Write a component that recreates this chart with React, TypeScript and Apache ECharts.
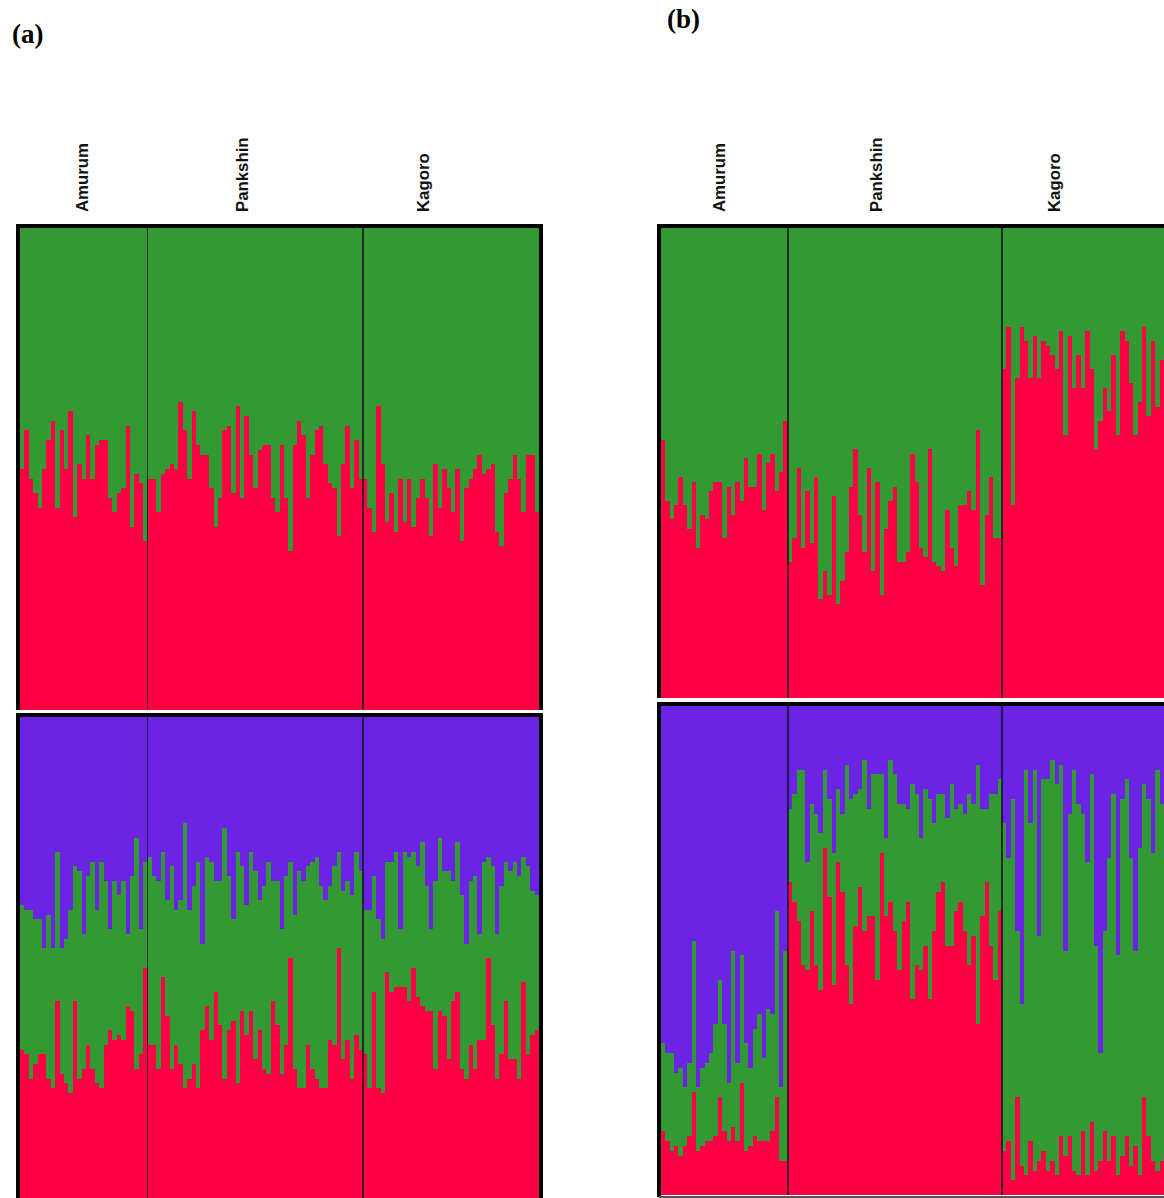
import React, { useEffect, useRef } from "react";
import * as echarts from "echarts";

// ---------- data (membership %, per individual) ----------
const populations = ["Amurum", "Pankshin", "Kagoro"];
const popSizes = [29, 49, 40];

// (a) top: K=2, cluster 1 (red) share
const a2RedAmurum = [50,58,48,45,42,50,56,60,42,58,50,62,40,51,48,57,48,55,56,56,44,41,45,46,59,38,49,47,35];
const a2RedPankshin = [48,48,41,49,50,51,50,64,58,48,62,55,53,53,46,38,44,58,59,45,63,44,61,53,46,54,55,55,44,41,55,44,33,55,60,57,44,53,58,59,51,47,46,36,51,59,46,56,48];
const a2RedKagoro = [48,42,37,63,51,39,45,37,48,39,48,38,44,48,44,36,51,42,50,46,41,50,35,46,48,50,53,49,50,51,37,34,45,48,53,48,41,53,53,41];

// (a) bottom: K=3, red and green shares (purple = rest)
const a3RedAmurum = [31,30,25,28,30,30,25,23,41,26,24,22,41,25,27,32,27,24,23,32,35,33,34,33,40,39,27,30,48];
const a3GreenAmurum = [30,30,35,30,28,22,34,29,31,26,30,38,28,43,28,35,43,36,47,34,21,33,29,33,15,28,48,26,22];
const a3RedPankshin = [32,32,27,46,38,27,32,28,23,25,28,23,35,40,33,43,36,25,35,37,24,39,34,39,29,35,27,26,41,36,26,32,50,27,23,23,32,27,25,23,23,33,32,52,29,33,25,34,31];
const a3GreenPankshin = [39,35,39,26,24,42,28,34,55,35,37,47,18,31,37,23,30,52,32,21,48,30,27,33,39,27,38,44,25,30,30,35,20,32,45,43,37,43,46,42,39,32,37,20,35,33,38,38,37];
const a3RedKagoro = [30,23,43,23,22,47,43,44,44,44,41,48,42,40,39,39,27,39,38,29,41,43,27,25,32,27,33,33,50,36,25,30,41,29,29,25,45,30,34,35];
const a3GreenKagoro = [30,37,24,35,32,23,27,28,12,28,30,24,27,34,26,17,39,36,30,39,25,31,36,28,34,40,22,37,21,33,30,35,29,39,41,42,26,39,30,28];

// (b) top: K=2, red share
const b2RedAmurum = [55,42,38,41,47,41,36,46,32,39,38,44,46,46,34,45,39,46,42,51,45,45,52,40,50,52,44,48,59];
const b2RedPankshin = [29,34,49,32,44,33,47,21,27,22,43,20,25,31,45,53,39,31,49,27,46,22,36,42,45,29,29,31,52,46,32,30,53,29,28,27,40,32,28,41,41,44,40,57,24,39,47,34,34];
const b2RedKagoro = [70,79,41,68,79,76,68,77,68,76,75,73,70,78,56,77,66,73,66,78,70,53,59,66,61,73,56,78,76,67,56,63,79,60,76,62,72,68,74,70];

// (b) bottom: K=3, red and green shares (purple = rest)
const b3RedAmurum = [13,11,9,10,8,10,12,21,9,10,11,11,12,20,13,11,14,11,23,9,10,12,11,11,11,13,20,7,7];
const b3GreenAmurum = [18,18,20,15,18,12,15,31,13,16,16,18,23,24,22,12,36,16,26,22,16,22,26,17,27,24,38,15,43];
const b3RedPankshin = [64,60,56,47,46,58,47,42,71,61,43,68,62,47,39,55,63,54,57,57,44,70,57,60,54,46,56,60,40,47,46,51,40,54,62,64,51,51,58,60,54,47,53,35,57,64,51,44,58];
const b3GreenPankshin = [15,22,31,40,22,22,31,32,16,20,27,15,16,41,42,27,20,35,22,29,42,16,16,29,32,34,24,19,44,35,27,32,41,22,20,18,26,33,21,20,24,35,27,53,22,15,31,38,27];
const b3RedKagoro = [9,11,3,20,6,4,11,5,7,9,5,7,4,12,8,12,5,4,13,4,15,5,7,13,7,12,4,8,12,6,10,4,20,12,7,5,7,9,5,7];
const b3GreenKagoro = [67,58,78,34,33,83,65,82,46,76,80,82,80,76,42,66,82,76,65,64,71,46,22,41,62,70,45,73,73,63,40,67,64,69,63,82,73,63,78,71];

// ---------- styling / layout ----------
const RED = "#FF0044";
const GREEN = "#339933";
const PURPLE = "#6B24E6";

const CANVAS_W = 1200;
const CANVAS_H = 1200;

const GRIDS = [
  { left: 20, top: 228, width: 519, height: 482 },  // (a) K=2
  { left: 20, top: 717, width: 519, height: 482 },  // (a) K=3
  { left: 661, top: 228, width: 516, height: 470 }, // (b) K=2
  { left: 661, top: 706, width: 516, height: 489 }, // (b) K=3
];

const LABEL_X_A = [82, 242, 423];
const LABEL_X_B = [719, 876, 1054];

export default function App() {
  const ref = useRef<HTMLDivElement>(null);

  useEffect(() => {
    if (!ref.current) return;
    const chart = echarts.init(ref.current, null, { renderer: "svg" });

    const ids: string[] = [];
    populations.forEach((p, pi) => {
      for (let i = 0; i < popSizes[pi]; i++) ids.push(p + "-" + (i + 1));
    });

    const a2Red = [...a2RedAmurum, ...a2RedPankshin, ...a2RedKagoro];
    const a3Red = [...a3RedAmurum, ...a3RedPankshin, ...a3RedKagoro];
    const a3Green = [...a3GreenAmurum, ...a3GreenPankshin, ...a3GreenKagoro];
    const b2Red = [...b2RedAmurum, ...b2RedPankshin, ...b2RedKagoro];
    const b3Red = [...b3RedAmurum, ...b3RedPankshin, ...b3RedKagoro];
    const b3Green = [...b3GreenAmurum, ...b3GreenPankshin, ...b3GreenKagoro];

    const rest2 = (r: number[]) => r.map((v) => 100 - v);
    const rest3 = (r: number[], g: number[]) => r.map((v, i) => 100 - v - g[i]);

    const layers = [
      [
        { name: "Cluster 1", color: RED, data: a2Red },
        { name: "Cluster 2", color: GREEN, data: rest2(a2Red) },
      ],
      [
        { name: "Cluster 1", color: RED, data: a3Red },
        { name: "Cluster 2", color: GREEN, data: a3Green },
        { name: "Cluster 3", color: PURPLE, data: rest3(a3Red, a3Green) },
      ],
      [
        { name: "Cluster 1", color: RED, data: b2Red },
        { name: "Cluster 2", color: GREEN, data: rest2(b2Red) },
      ],
      [
        { name: "Cluster 1", color: RED, data: b3Red },
        { name: "Cluster 2", color: GREEN, data: b3Green },
        { name: "Cluster 3", color: PURPLE, data: rest3(b3Red, b3Green) },
      ],
    ];

    const series: any[] = [];
    layers.forEach((ls, gi) => {
      ls.forEach((l) => {
        series.push({
          type: "bar",
          name: l.name,
          xAxisIndex: gi,
          yAxisIndex: gi,
          stack: "s" + gi,
          data: l.data,
          barCategoryGap: "0%",
          barGap: "0%",
          silent: true,
          itemStyle: { color: l.color, borderWidth: 0 },
        });
      });
    });

    chart.setOption({
      animation: false,
      backgroundColor: "#ffffff",
      grid: GRIDS.map((g) => ({ ...g, containLabel: false })),
      xAxis: GRIDS.map((_, gi) => ({
        type: "category",
        gridIndex: gi,
        data: ids,
        show: false,
      })),
      yAxis: GRIDS.map((_, gi) => ({
        type: "value",
        gridIndex: gi,
        min: 0,
        max: 100,
        show: false,
        splitLine: { show: false },
      })),
      series,
    });

    // population dividers at category boundaries (through the axis scale)
    const graphics: any[] = [];
    GRIDS.forEach((g, gi) => {
      let cum = 0;
      for (let p = 0; p < popSizes.length - 1; p++) {
        cum += popSizes[p];
        const x1 = chart.convertToPixel({ xAxisIndex: gi } as any, ids[cum - 1]) as unknown as number;
        const x2 = chart.convertToPixel({ xAxisIndex: gi } as any, ids[cum]) as unknown as number;
        const x = (x1 + x2) / 2;
        graphics.push({
          type: "line",
          z: 100,
          shape: { x1: x, y1: g.top, x2: x, y2: g.top + g.height },
          style: { stroke: "rgba(20,20,30,0.8)", lineWidth: 1.5 },
        });
      }
    });

    // frames
    const frame = (pts: number[][]) => ({
      type: "polyline",
      z: 110,
      shape: { points: pts },
      style: { stroke: "#000000", lineWidth: 4, fill: null },
    });
    graphics.push(frame([[18, 710], [18, 226], [541, 226], [541, 710]]));
    graphics.push(frame([[18, 1200], [18, 715], [541, 715], [541, 1200]]));
    graphics.push(frame([[659, 698], [659, 226], [1180, 226]]));
    graphics.push(frame([[659, 1197], [659, 704], [1180, 704]]));
    graphics.push({
      type: "line",
      z: 110,
      shape: { x1: 659, y1: 1196.5, x2: 1180, y2: 1196.5 },
      style: { stroke: "#555555", lineWidth: 2 },
    });

    // population labels
    const label = (text: string, x: number) => ({
      type: "text",
      z: 120,
      x,
      y: 212,
      rotation: Math.PI / 2,
      scaleX: 1.05,
      style: {
        text,
        fill: "#111111",
        font: "bold 16px 'Liberation Sans', Arial, sans-serif",
        textAlign: "left",
        textVerticalAlign: "middle",
      },
    });
    populations.forEach((p, i) => {
      graphics.push(label(p, LABEL_X_A[i]));
      graphics.push(label(p, LABEL_X_B[i]));
    });

    // panel letters
    graphics.push({
      type: "text",
      z: 120,
      x: 12,
      y: 20,
      style: {
        text: "(a)",
        fill: "#000000",
        font: "bold 27px 'Liberation Serif', 'Times New Roman', serif",
        textAlign: "left",
        textVerticalAlign: "top",
      },
    });
    graphics.push({
      type: "text",
      z: 120,
      x: 667,
      y: 5,
      style: {
        text: "(b)",
        fill: "#000000",
        font: "bold 27px 'Liberation Serif', 'Times New Roman', serif",
        textAlign: "left",
        textVerticalAlign: "top",
      },
    });

    chart.setOption({ graphic: graphics });

    return () => chart.dispose();
  }, []);

  return (
    <div
      style={{
        position: "fixed",
        left: 0,
        top: 0,
        width: 1164,
        height: 1198,
        overflow: "hidden",
        background: "#ffffff",
      }}
    >
      <style>{".structure-chart svg path { shape-rendering: crispEdges; }"}</style>
      <div className="structure-chart" ref={ref} style={{ width: CANVAS_W, height: CANVAS_H }} />
    </div>
  );
}
